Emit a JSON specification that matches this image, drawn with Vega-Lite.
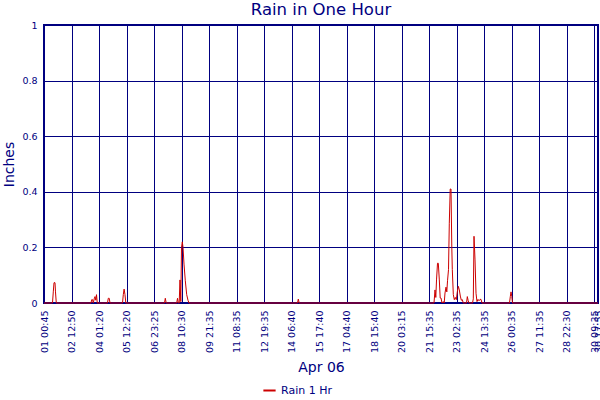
{
  "$schema": "https://vega.github.io/schema/vega-lite/v6.json",
  "width": 554,
  "height": 278,
  "autosize": {"type": "none"},
  "padding": {"left": 44, "top": 25, "right": 2, "bottom": 97},
  "background": "white",
  "title": {"text": "Rain in One Hour", "font": "DejaVu Sans", "fontSize": 16.5, "fontWeight": "normal", "color": "#000080", "anchor": "middle", "frame": "group", "baseline": "alphabetic", "offset": 8, "dy": 19},
  "config": {
    "view": {"stroke": "#000080", "strokeWidth": 2},
    "axis": {"gridColor": "#000080", "gridWidth": 1, "gridOpacity": 1, "domain": false, "ticks": false, "labelFont": "DejaVu Sans", "labelColor": "#000080", "titleFont": "DejaVu Sans", "titleColor": "#000080", "titleFontWeight": "normal", "titleFontSize": 14, "labelFontSize": 9.5}
  },
  "data": {"values": [
    {"u": 0, "v": 0},
    {"u": 0.309, "v": 0}, {"u": 0.338, "v": 0.04}, {"u": 0.364, "v": 0.073}, {"u": 0.4, "v": 0.073}, {"u": 0.418, "v": 0.04}, {"u": 0.447, "v": 0},
    {"u": 1.709, "v": 0}, {"u": 1.735, "v": 0.012}, {"u": 1.764, "v": 0.012}, {"u": 1.793, "v": 0}, {"u": 1.825, "v": 0.015}, {"u": 1.855, "v": 0.023}, {"u": 1.884, "v": 0.01}, {"u": 1.909, "v": 0.03}, {"u": 1.938, "v": 0},
    {"u": 2.309, "v": 0}, {"u": 2.338, "v": 0.017}, {"u": 2.371, "v": 0.017}, {"u": 2.4, "v": 0},
    {"u": 2.855, "v": 0}, {"u": 2.884, "v": 0.03}, {"u": 2.913, "v": 0.05}, {"u": 2.945, "v": 0.03}, {"u": 2.975, "v": 0},
    {"u": 4.382, "v": 0}, {"u": 4.411, "v": 0.017}, {"u": 4.444, "v": 0},
    {"u": 4.825, "v": 0}, {"u": 4.855, "v": 0.017}, {"u": 4.884, "v": 0},
    {"u": 4.916, "v": 0}, {"u": 4.945, "v": 0.083}, {"u": 4.975, "v": 0.005}, {"u": 5.0, "v": 0.2}, {"u": 5.029, "v": 0.22}, {"u": 5.055, "v": 0.2}, {"u": 5.091, "v": 0.14}, {"u": 5.138, "v": 0.08}, {"u": 5.189, "v": 0.03}, {"u": 5.236, "v": 0.01}, {"u": 5.273, "v": 0},
    {"u": 9.218, "v": 0}, {"u": 9.247, "v": 0.014}, {"u": 9.28, "v": 0},
    {"u": 14.182, "v": 0}, {"u": 14.218, "v": 0.047}, {"u": 14.247, "v": 0.02}, {"u": 14.273, "v": 0.083}, {"u": 14.309, "v": 0.143}, {"u": 14.338, "v": 0.143}, {"u": 14.375, "v": 0.083}, {"u": 14.407, "v": 0.018}, {"u": 14.436, "v": 0.018}, {"u": 14.473, "v": 0}, {"u": 14.52, "v": 0.005}, {"u": 14.553, "v": 0}, {"u": 14.582, "v": 0.036}, {"u": 14.618, "v": 0.057}, {"u": 14.647, "v": 0.04}, {"u": 14.673, "v": 0.08}, {"u": 14.709, "v": 0.12}, {"u": 14.738, "v": 0.287}, {"u": 14.771, "v": 0.41}, {"u": 14.8, "v": 0.41}, {"u": 14.829, "v": 0.2}, {"u": 14.847, "v": 0.12}, {"u": 14.884, "v": 0.03}, {"u": 14.92, "v": 0.012}, {"u": 14.956, "v": 0.02}, {"u": 14.993, "v": 0.012}, {"u": 15.029, "v": 0.04}, {"u": 15.065, "v": 0.06}, {"u": 15.102, "v": 0.047}, {"u": 15.138, "v": 0.025}, {"u": 15.175, "v": 0.01}, {"u": 15.211, "v": 0.012}, {"u": 15.247, "v": 0},
    {"u": 15.364, "v": 0}, {"u": 15.393, "v": 0.023}, {"u": 15.425, "v": 0.008}, {"u": 15.455, "v": 0},
    {"u": 15.582, "v": 0}, {"u": 15.611, "v": 0.015}, {"u": 15.636, "v": 0.24}, {"u": 15.673, "v": 0.155}, {"u": 15.709, "v": 0.035}, {"u": 15.745, "v": 0.005}, {"u": 15.782, "v": 0.013}, {"u": 15.818, "v": 0.008}, {"u": 15.855, "v": 0.013}, {"u": 15.891, "v": 0.013}, {"u": 15.927, "v": 0},
    {"u": 16.927, "v": 0}, {"u": 16.956, "v": 0.023}, {"u": 16.982, "v": 0.04}, {"u": 17.011, "v": 0.023}, {"u": 17.036, "v": 0},
    {"u": 20.145, "v": 0}
  ]},
  "mark": {"type": "line", "strokeWidth": 1, "interpolate": "linear"},
  "encoding": {
    "x": {"field": "u", "type": "quantitative", "scale": {"domain": [0, 20.145], "nice": false, "zero": false},
      "axis": {"title": "Apr 06", "values": [0,1,2,3,4,5,6,7,8,9,10,11,12,13,14,15,16,17,18,19,20,20.145], "labelAngle": -90, "labelAlign": "right", "labelBaseline": "middle", "labelPadding": 7, "labelFlush": false, "labelOverlap": false, "titlePadding": 8,
        "labelExpr": "datum.value > 20.05 ? '30 17:55' : ['01 00:45','02 12:50','04 01:20','05 12:20','06 23:25','08 10:30','09 21:35','11 08:35','12 19:35','14 06:40','15 17:40','17 04:40','18 15:40','20 03:15','21 15:35','23 02:35','24 13:35','26 00:35','27 11:35','28 22:30','30 09:35'][round(datum.value)]"}},
    "y": {"field": "v", "type": "quantitative", "scale": {"domain": [0, 1], "nice": false},
      "axis": {"title": "Inches", "values": [0, 0.2, 0.4, 0.6, 0.8, 1], "format": "~g", "labelPadding": 7, "titlePadding": 5}},
    "color": {"datum": "Rain 1 Hr", "type": "nominal", "scale": {"range": ["#CC0000"]},
      "legend": {"title": null, "orient": "none", "legendX": 218, "legendY": 358, "symbolType": "stroke", "symbolStrokeWidth": 2, "symbolSize": 150, "labelFont": "DejaVu Sans", "labelFontSize": 11, "labelColor": "#000080"}}
  }
}
